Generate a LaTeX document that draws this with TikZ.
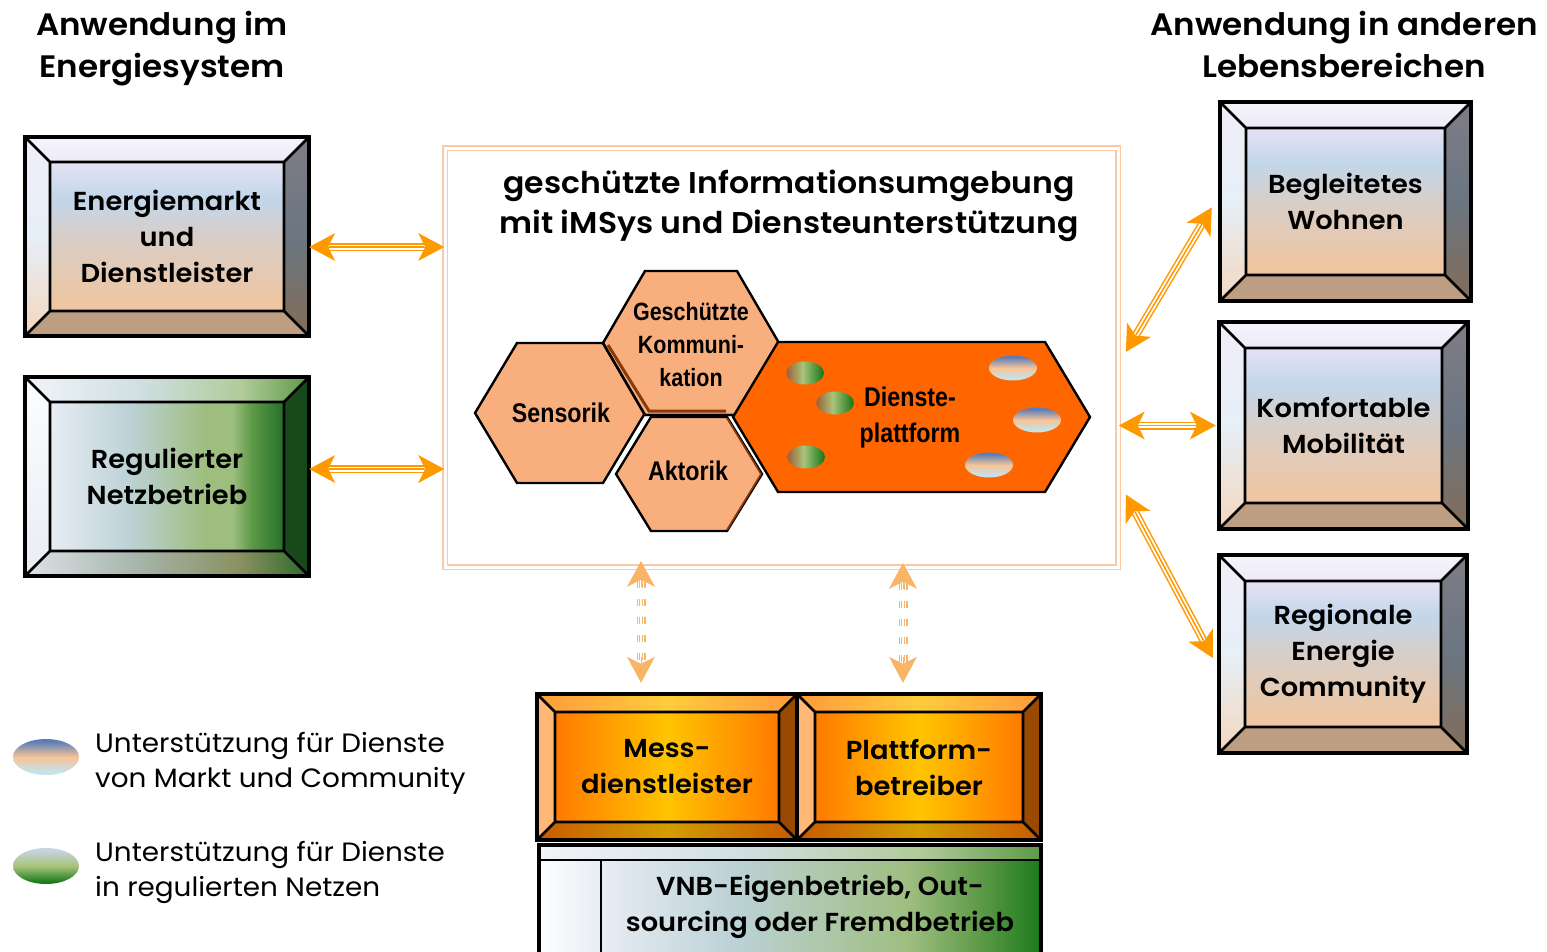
\documentclass[tikz,border=0pt]{standalone}
\usepackage{fontspec}
\setmainfont{Poppins}[FakeStretch=1.05, BoldFont={Poppins SemiBold}]
\newfontfamily\narrowfont[FakeStretch=0.86]{Liberation Sans}
\usetikzlibrary{arrows.meta,calc,shapes.geometric}

% ---------- colours ----------
\definecolor{arr}{HTML}{FF9900}
\definecolor{larr}{HTML}{F9B466}
\definecolor{framec}{HTML}{F9C9A6}
\definecolor{hexfill}{HTML}{F9AF7D}
\definecolor{platfill}{HTML}{FF6600}
% lavender / blue / peach boxes
\definecolor{lvA}{HTML}{E6E2F4}
\definecolor{lvB}{HTML}{C2D6EA}
\definecolor{lvC}{HTML}{D8CEC8}
\definecolor{lvD}{HTML}{EEC6A2}
% green boxes
\definecolor{gnA}{HTML}{E8EDF4}
\definecolor{gnB}{HTML}{BCD2D6}
\definecolor{gnC}{HTML}{9EBE80}
\definecolor{gnD}{HTML}{5E9A48}
\definecolor{gnE}{HTML}{24702A}
\definecolor{gbA}{HTML}{DDE2E8}
\definecolor{gbB}{HTML}{A6B4AA}
\definecolor{gbC}{HTML}{8A9060}
\definecolor{gbD}{HTML}{2A6A28}
% orange boxes
\definecolor{orA}{HTML}{FF7A00}
\definecolor{orB}{HTML}{FFC400}
\definecolor{otA}{HTML}{FF9A3C}
\definecolor{otB}{HTML}{FFCC3C}
\definecolor{obA}{HTML}{C85A00}
\definecolor{obB}{HTML}{D29E00}
% small ellipses
\definecolor{elBlue}{HTML}{5B7DB8}
\definecolor{elPeach}{HTML}{F6C496}
\definecolor{elCyan}{HTML}{C6E2EA}
\definecolor{elBrown}{HTML}{A0683C}
\definecolor{elLight}{HTML}{A8C47A}
\definecolor{elDark}{HTML}{1C7A1C}
\definecolor{elGrey}{HTML}{C8D4E4}
\definecolor{hexshadow}{HTML}{8A3A08}

% ---------- shadings (25bp..75bp is mapped onto the path) ----------
\pgfdeclareverticalshading{lifeInner}{100bp}{color(0bp)=(lvD); color(28bp)=(lvD); color(50bp)=(lvC); color(63bp)=(lvB); color(75bp)=(lvA); color(100bp)=(lvA)}
\pgfdeclarehorizontalshading{grnInner}{100bp}{color(0bp)=(gnA); color(25bp)=(gnA); color(42bp)=(gnB); color(58bp)=(gnC); color(64bp)=(gnC); color(68bp)=(gnD); color(75bp)=(gnE); color(100bp)=(gnE)}
\pgfdeclarehorizontalshading{grnTop}{100bp}{color(0bp)=(gnA!60!white); color(25bp)=(gnA!60!white); color(45bp)=(gnB!70!white); color(63bp)=(gnC!80!white); color(75bp)=(gnD); color(100bp)=(gnD)}
\pgfdeclarehorizontalshading{grnBot}{100bp}{color(0bp)=(gbA); color(25bp)=(gbA); color(45bp)=(gbB); color(63bp)=(gbC); color(75bp)=(gbD); color(100bp)=(gbD)}
\pgfdeclarehorizontalshading{orInner}{100bp}{color(0bp)=(orA); color(25bp)=(orA); color(50bp)=(orB); color(75bp)=(orA); color(100bp)=(orA)}
\pgfdeclarehorizontalshading{orTop}{100bp}{color(0bp)=(otA); color(25bp)=(otA); color(50bp)=(otB); color(75bp)=(otA); color(100bp)=(otA)}
\pgfdeclarehorizontalshading{orBot}{100bp}{color(0bp)=(obA); color(25bp)=(obA); color(50bp)=(obB); color(75bp)=(obA); color(100bp)=(obA)}
\pgfdeclarehorizontalshading{vnbInner}{100bp}{color(0bp)=(gnA); color(25bp)=(gnA); color(40bp)=(gnB); color(60bp)=(gnC); color(68bp)=(gnD); color(75bp)=(elDark); color(100bp)=(elDark)}
\pgfdeclareverticalshading{dotMarket}{100bp}{color(0bp)=(elCyan); color(30bp)=(elCyan); color(50bp)=(elPeach); color(72bp)=(elBlue); color(100bp)=(elBlue)}
\pgfdeclarehorizontalshading{dotGrid}{100bp}{color(0bp)=(elBrown); color(27bp)=(elBrown); color(47bp)=(elLight); color(73bp)=(elDark); color(100bp)=(elDark)}
\pgfdeclareverticalshading{dotGridLeg}{100bp}{color(0bp)=(elDark); color(28bp)=(elDark); color(50bp)=(elLight); color(73bp)=(elGrey); color(100bp)=(elGrey)}

\tikzset{
  % bevel palettes
  lifeT/.style={top color=lvA!40!white, bottom color=lvA!70!white},
  lifeL/.style={top color=lvA!60!white, bottom color=lvD!70!white, middle color=lvB!40!white},
  lifeR/.style={top color=black!45!lvA, bottom color=black!45!lvD, middle color=black!45!lvB},
  lifeB/.style={fill=black!20!lvD},
  lifeI/.style={shade, shading=lifeInner},
  grnT/.style={shade, shading=grnTop},
  grnL/.style={top color=white!90!gnA, bottom color=gnA},
  grnR/.style={fill=black!35!gnE},
  grnB/.style={shade, shading=grnBot},
  grnI/.style={shade, shading=grnInner},
  orT/.style={shade, shading=orTop},
  orL/.style={fill=otA!70!white},
  orR/.style={fill=black!40!orA},
  orB/.style={shade, shading=orBot},
  orI/.style={shade, shading=orInner},
  bevline/.style={draw=black, line width=2.6pt, line join=miter},
  bevouter/.style={draw=black, line width=3.4pt, line join=miter},
  boxtxt/.style={font=\bfseries\fontsize{26}{36}\selectfont, align=center, inner sep=0pt},
  headtxt/.style={font=\bfseries\fontsize{31}{42}\selectfont, align=center, inner sep=0pt},
  ftitle/.style={font=\bfseries\fontsize{30}{40}\selectfont, align=center, inner sep=0pt},
  legtxt/.style={font=\fontsize{26.5}{35}\selectfont, align=left, inner sep=0pt},
  hexst/.style={draw=black, line width=2.4pt, line join=miter},
  hexsh/.style={draw=hexshadow, line width=3pt, line join=miter},
  hextxt/.style={font=\narrowfont\bfseries\fontsize{27}{33}\selectfont, align=center, inner sep=0pt},
  framest/.style={draw=framec, line width=1.6pt, double=white, double distance=3pt, inner sep=0pt},
  tshaft/.style={draw=arr, line width=8pt, shorten <=20pt, shorten >=20pt,
    postaction={draw=white, line width=5pt}, postaction={draw=arr, line width=1.5pt}},
  ttip/.style={draw=arr, line width=0.4pt, -{Stealth[length=26pt,width=28pt,inset=7pt,line width=0pt]}},
  dshaft/.style={draw=larr, line width=9pt, dash pattern=on 7pt off 11pt, shorten <=20pt, shorten >=20pt,
    postaction={draw=white, line width=6.6pt}, postaction={draw=larr, line width=4.2pt},
    postaction={draw=white, line width=1.6pt}},
  dtip/.style={draw=larr, line width=0.4pt, -{Stealth[length=26pt,width=28pt,inset=7pt,line width=0pt]}},
  dot/.style={ellipse, inner sep=0pt, shade},
}

% bevelled box: name, x1, y1, x2, y2, bevel width, palette, text
\newcommand\bevelbox[8]{%
  \path[#7T] (#2,#3) -- (#4,#3) -- ({#4-#6},{#3+#6}) -- ({#2+#6},{#3+#6}) -- cycle;
  \path[#7B] (#2,#5) -- (#4,#5) -- ({#4-#6},{#5-#6}) -- ({#2+#6},{#5-#6}) -- cycle;
  \path[#7L] (#2,#3) -- ({#2+#6},{#3+#6}) -- ({#2+#6},{#5-#6}) -- (#2,#5) -- cycle;
  \path[#7R] (#4,#3) -- ({#4-#6},{#3+#6}) -- ({#4-#6},{#5-#6}) -- (#4,#5) -- cycle;
  \path[#7I] ({#2+#6},{#3+#6}) rectangle ({#4-#6},{#5-#6});
  \draw[bevline] ({#2+#6},{#3+#6}) rectangle ({#4-#6},{#5-#6})
    (#2,#3) -- ({#2+#6},{#3+#6}) (#4,#3) -- ({#4-#6},{#3+#6})
    (#4,#5) -- ({#4-#6},{#5-#6}) (#2,#5) -- ({#2+#6},{#5-#6});
  \draw[bevouter] (#2,#3) rectangle (#4,#5);
  \node[boxtxt, minimum width={(#4-#2)*1pt}, minimum height={(#5-#3)*1pt}]
    (#1) at ({(#2+#4)/2},{(#3+#5)/2}) {#8};
}

% hexagon: centre x, centre y, half width, half height, half top edge, style
\newcommand\hexa[6]{%
  \draw[#6] ({#1-#3},#2) -- ({#1-#5},{#2-#4}) -- ({#1+#5},{#2-#4})
    -- ({#1+#3},#2) -- ({#1+#5},{#2+#4}) -- ({#1-#5},{#2+#4}) -- cycle;
}

% triple-striped double arrow between two named points
\newcommand\solidarrow[2]{%
  \draw[tshaft] (#1) -- (#2);
  \draw[ttip] ($(#1)!26pt!(#2)$) -- (#1);
  \draw[ttip] ($(#2)!26pt!(#1)$) -- (#2);
}
\newcommand\dashedarrow[2]{%
  \draw[dshaft] (#1) -- (#2);
  \draw[dtip] ($(#1)!26pt!(#2)$) -- (#1);
  \draw[dtip] ($(#2)!26pt!(#1)$) -- (#2);
}

\begin{document}
\begin{tikzpicture}[x=1pt, y=-1pt]
\useasboundingbox[fill=white] (0,0) rectangle (1547,951);

% headings
\node[headtxt] (headL) at (162,49) {Anwendung im\\Energiesystem};
\node[headtxt] (headR) at (1344,44) {Anwendung in anderen\\Lebensbereichen};

% boxes on the left
\bevelbox{emarkt}{25}{137}{309}{336}{25}{life}{Energiemarkt\\und\\Dienstleister}
\bevelbox{netz}{25}{377}{309}{576}{25}{grn}{Regulierter\\Netzbetrieb}

% boxes on the right
\bevelbox{wohnen}{1220}{102}{1471}{301}{26}{life}{Begleitetes\\Wohnen}
\bevelbox{mobil}{1219}{322}{1468}{529}{26}{life}{Komfortable\\Mobilität}
\bevelbox{commun}{1219}{555}{1467}{753}{26}{life}{Regionale\\Energie\\Community}

% protected information environment
\node[framest, minimum width=673pt, minimum height=419pt] (frame) at (781.5,357.5) {};
\node[ftitle] (ftitle) at (789,205.5) {geschützte Informationsumgebung\\mit iMSys und Diensteunterstützung};

% honeycomb
\hexa{560}{413}{85}{70}{43}{hexst, fill=hexfill}
\hexa{691}{343}{88}{72}{46}{hexst, fill=hexfill}
% brown inner edge along the lower side of the communication cell
\draw[hexsh] (608,345) -- (649,411) -- (726,411);
\draw[hexst] (603,343) -- (645,415) -- (737,415);
\hexa{689}{474}{73}{57}{38}{hexst, fill=hexfill}
\draw[hexst, fill=platfill] (733,417) -- (778,342) -- (1045,342) -- (1090,417) -- (1045,492) -- (778,492) -- cycle;
\draw[hexsh, line width=1.6pt] (727,418) -- (761,474) -- (727,530);
\node[hextxt] (sensorik) at (561,413) {Sensorik};
\node[hextxt, font=\narrowfont\bfseries\fontsize{25}{33}\selectfont] (komm) at (691,345) {Geschützte\\Kommuni-\\kation};
\node[hextxt] (aktorik) at (688,471) {Aktorik};
\node[hextxt, font=\narrowfont\bfseries\fontsize{27}{36}\selectfont] (plattform) at (910,418) {Dienste-\\plattform};

% service support dots on the platform
\node[dot, shading=dotGrid, minimum width=38pt, minimum height=23pt] (g1) at (805,373) {};
\node[dot, shading=dotGrid, minimum width=38pt, minimum height=23pt] (g2) at (835,403) {};
\node[dot, shading=dotGrid, minimum width=38pt, minimum height=23pt] (g3) at (806,457) {};
\node[dot, shading=dotMarket, minimum width=48pt, minimum height=25pt] (m1) at (1013,368) {};
\node[dot, shading=dotMarket, minimum width=48pt, minimum height=25pt] (m2) at (1037,420) {};
\node[dot, shading=dotMarket, minimum width=48pt, minimum height=25pt] (m3) at (989,465) {};

% operators below
\bevelbox{mess}{537}{694}{797}{840}{18}{or}{Mess-\\dienstleister}
\bevelbox{platt}{797}{694}{1041}{840}{18}{or}{Plattform-\\betreiber}

% network operation (continues beyond the lower edge)
\path[grnT] (539,845) rectangle (1041,860);
\path[shade, left color=white!92!gnA, right color=gnA] (539,860) rectangle (601,960);
\path[shade, shading=vnbInner] (601,860) rectangle (1041,960);
\draw[bevline] (539,860) -- (1041,860) (601,860) -- (601,960);
\draw[bevouter] (539,845) rectangle (1041,960);
\node[boxtxt] (vnb) at (820,907) {VNB-Eigenbetrieb, Out-\\sourcing oder Fremdbetrieb};

% legend
\node[dot, shading=dotMarket, minimum width=66pt, minimum height=36pt] (legM) at (46,757) {};
\node[legtxt, anchor=west] (legMtxt) at (95,763) {Unterstützung für Dienste\\von Markt und Community};
\node[dot, shading=dotGridLeg, minimum width=66pt, minimum height=36pt] (legG) at (46,866) {};
\node[legtxt, anchor=west] (legGtxt) at (95,872) {Unterstützung für Dienste\\in regulierten Netzen};

% connector end points
\coordinate (aL1) at ([yshift=-10.5pt]emarkt.east);
\coordinate (bL1) at (aL1 -| frame.west);
\coordinate (aL2) at ([yshift=7.5pt]netz.east);
\coordinate (bL2) at (aL2 -| frame.west);
\coordinate (aR1) at ([shift={(7,-5.5)}]frame.east);
\coordinate (bR1) at ([shift={(-8,6)}]wohnen.west);
\coordinate (bR2) at ([xshift=-3pt]mobil.west);
\coordinate (aR2) at (bR2 -| frame.east);
\coordinate (aR3) at ([shift={(7,137)}]frame.east);
\coordinate (bR3) at ([shift={(-6,4)}]commun.west);
\coordinate (bD1) at ([shift={(-26,-11)}]mess.north);
\coordinate (aD1) at ($(bD1 |- frame.south)+(0,-7)$);
\coordinate (bD2) at ([shift={(-16,-11)}]platt.north);
\coordinate (aD2) at ($(bD2 |- frame.south)+(0,-5)$);

% connectors
\solidarrow{aL1}{bL1}
\solidarrow{aL2}{bL2}
\solidarrow{aR1}{bR1}
\solidarrow{aR2}{bR2}
\solidarrow{aR3}{bR3}
\dashedarrow{aD1}{bD1}
\dashedarrow{aD2}{bD2}
\end{tikzpicture}
\end{document}
